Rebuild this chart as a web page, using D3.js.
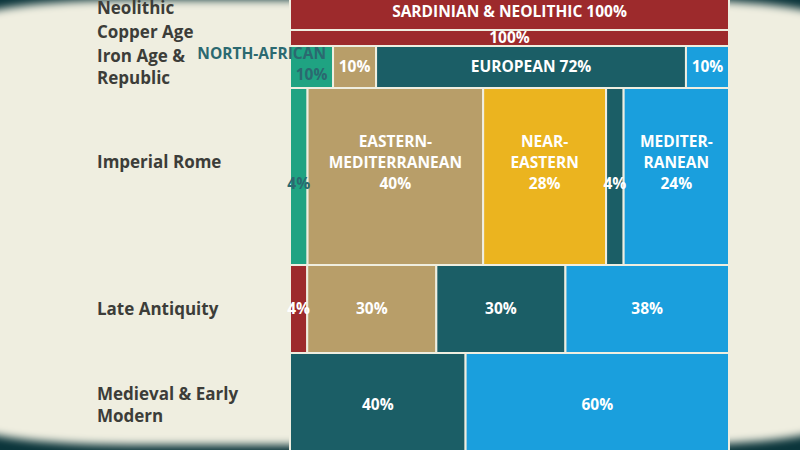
<!DOCTYPE html>
<html>
<head>
<meta charset="utf-8">
<script src="https://cdn.jsdelivr.net/npm/d3@7"></script>
<style>
  html, body { margin: 0; padding: 0; background: #efeee0; }
  svg { display: block; }
  text { font-family: "Open Sans", "Noto Sans", sans-serif; font-weight: 700; }
</style>
</head>
<body>
<svg id="chart" width="800" height="450"></svg>
<script>
"use strict";

// periods (rows), top to bottom
const periods = ["Neolithic", "Copper Age", "Iron Age & Republic", "Imperial Rome", "Late Antiquity", "Medieval & Early Modern"];
const periodLines = [["Neolithic"], ["Copper Age"], ["Iron Age &", "Republic"], ["Imperial Rome"], ["Late Antiquity"], ["Medieval & Early", "Modern"]];
// relative row heights
const rowSizes = [36, 16, 42, 177, 88, 104];

// ancestry groups, in stacking order
const ancestries = ["sardinian", "northAfrican", "easternMed", "nearEastern", "european", "mediterranean"];
const ancestryColors = ["#9d2a2c", "#1fa382", "#b89e69", "#ebb41f", "#1b5e66", "#1a9fdd"];
const ancestryTextColors = ["#ffffff", "#2b6970", "#ffffff", "#ffffff", "#ffffff", "#ffffff"];

// percentage per period, one list per ancestry
const sardinian     = [100, 100,  0,  0,  4,  0];
const northAfrican  = [  0,   0, 10,  4,  0,  0];
const easternMed    = [  0,   0, 10, 40, 30,  0];
const nearEastern   = [  0,   0,  0, 28,  0,  0];
const european      = [  0,   0, 72,  4, 30, 40];
const mediterranean = [  0,   0, 10, 24, 38, 60];

// names written on segments ("|" = where the name may wrap)
const segmentNames = [
  ["SARDINIAN & NEOLITHIC", "", "", "", "", ""],
  ["", "", "", "", "", ""],
  ["", "NORTH-AFRICAN", "", "", "EUROPEAN", ""],
  ["", "", "EASTERN-|MEDITERRANEAN", "NEAR-|EASTERN", "", "MEDITER-|RANEAN"],
  ["", "", "", "", "", ""],
  ["", "", "", "", "", ""]
];

const bg = "#efeee0";
const segFont = 15.5, rowFont = 17, lineGap = 21;
const svg = d3.select("#chart");
const width = +svg.attr("width"), height = +svg.attr("height");

// old-screen vignette
const defs = svg.append("defs");
defs.append("filter").attr("id", "soft")
  .attr("x", "-10%").attr("y", "-10%").attr("width", "120%").attr("height", "120%")
  .append("feGaussianBlur").attr("stdDeviation", 4);
svg.append("rect").attr("width", width).attr("height", height).attr("fill", "#0b353b");
svg.append("rect")
  .attr("x", -30).attr("y", 0).attr("width", width + 60).attr("height", height - 5)
  .attr("rx", 160).attr("ry", 22)
  .attr("fill", bg).attr("filter", "url(#soft)");

// table for the stack
const table = periods.map((p, i) => {
  const row = { period: p, i: i };
  row.sardinian = sardinian[i];
  row.northAfrican = northAfrican[i];
  row.easternMed = easternMed[i];
  row.nearEastern = nearEastern[i];
  row.european = european[i];
  row.mediterranean = mediterranean[i];
  return row;
});

const stack = d3.stack().keys(ancestries).offset(d3.stackOffsetExpand);
const series = stack(table);

const x = d3.scaleLinear().domain([0, 1]).range([290, 729]);
const cum = d3.cumsum(rowSizes);
const total = cum[cum.length - 1];
const y = d3.scaleLinear().domain([0, total]).range([-6, 457]);
const rowTop = i => y(i === 0 ? 0 : cum[i - 1]);
const rowBottom = i => y(cum[i]);
const rowMid = i => (rowTop(i) + rowBottom(i)) / 2;

const g = svg.append("g");

// bars
series.forEach((s, k) => {
  g.append("g").selectAll("rect")
    .data(s.filter(d => d[1] - d[0] > 0))
    .enter().append("rect")
      .attr("x", d => x(d[0]))
      .attr("y", d => rowTop(d.data.i))
      .attr("width", d => x(d[1]) - x(d[0]))
      .attr("height", d => rowBottom(d.data.i) - rowTop(d.data.i))
      .attr("fill", ancestryColors[k])
      .attr("stroke", bg)
      .attr("stroke-width", 2);
});

// work out caption lines first
const labels = svg.append("g");
const captions = [];
series.forEach((s, k) => {
  s.forEach(d => {
    if (d[1] - d[0] <= 0) return;
    const i = d.data.i;
    const pct = d.data[ancestries[k]] + "%";
    const name = segmentNames[i][k];
    const x0 = x(d[0]), x1 = x(d[1]);
    const w = x1 - x0;
    let lines = [pct];
    if (name) {
      const inline = name.replace(/\|/g, "") + " " + pct;
      const probe = labels.append("text").style("font-size", segFont + "px").text(inline);
      const fits = probe.node().getComputedTextLength() < w - 10;
      probe.remove();
      if (fits) lines = [inline];
      else if (w < 60) lines = [name.replace(/\|/g, ""), pct];
      else lines = name.split("|").concat([pct]);
    }
    captions.push({ i: i, k: k, x0: x0, x1: x1, w: w, lines: lines });
  });
});

const maxLines = periods.map((p, i) => d3.max(captions.filter(c => c.i === i), c => c.lines.length));
const blockMid = periods.map(() => null);

captions.forEach(c => {
  const n = c.lines.length;
  let base;
  if (maxLines[c.i] >= 3) base = rowMid(c.i) + 7;
  else base = rowMid(c.i) + (n > 1 ? 8 : 0);
  if (n >= 3) blockMid[c.i] = base - (n - 1) * lineGap / 2;
  c.lines.forEach((t, j) => {
    const txt = labels.append("text")
      .attr("y", base - (n - 1 - j) * lineGap).attr("dy", "0.35em")
      .style("font-size", segFont + "px")
      .attr("fill", ancestryTextColors[c.k])
      .text(t);
    const tw = txt.node().getComputedTextLength();
    if (tw > c.w && j < n - 1) {
      txt.attr("x", c.x1 - 7).attr("text-anchor", "end");
    } else {
      txt.attr("x", (c.x0 + c.x1) / 2).attr("text-anchor", "middle");
    }
  });
});

// period labels on the left, pushed up where they would collide
const rowLineGap = 22, minGap = 24;
const firstY = periodLines.map((lines, i) => {
  const mid = blockMid[i] !== null ? blockMid[i] : rowMid(i);
  return mid - (lines.length - 1) / 2 * rowLineGap;
});
for (let i = periodLines.length - 2; i >= 0; i--) {
  const last = firstY[i] + (periodLines[i].length - 1) * rowLineGap;
  const limit = firstY[i + 1] - minGap;
  if (last > limit) firstY[i] -= last - limit;
}
periodLines.forEach((lines, i) => {
  const t = svg.append("text")
    .attr("x", 97)
    .style("font-size", rowFont + "px")
    .attr("fill", "#3c3d39");
  lines.forEach((l, j) => {
    t.append("tspan")
      .attr("x", 97)
      .attr("y", firstY[i] + j * rowLineGap)
      .attr("dy", "0.35em")
      .text(l);
  });
});
</script>
</body>
</html>
